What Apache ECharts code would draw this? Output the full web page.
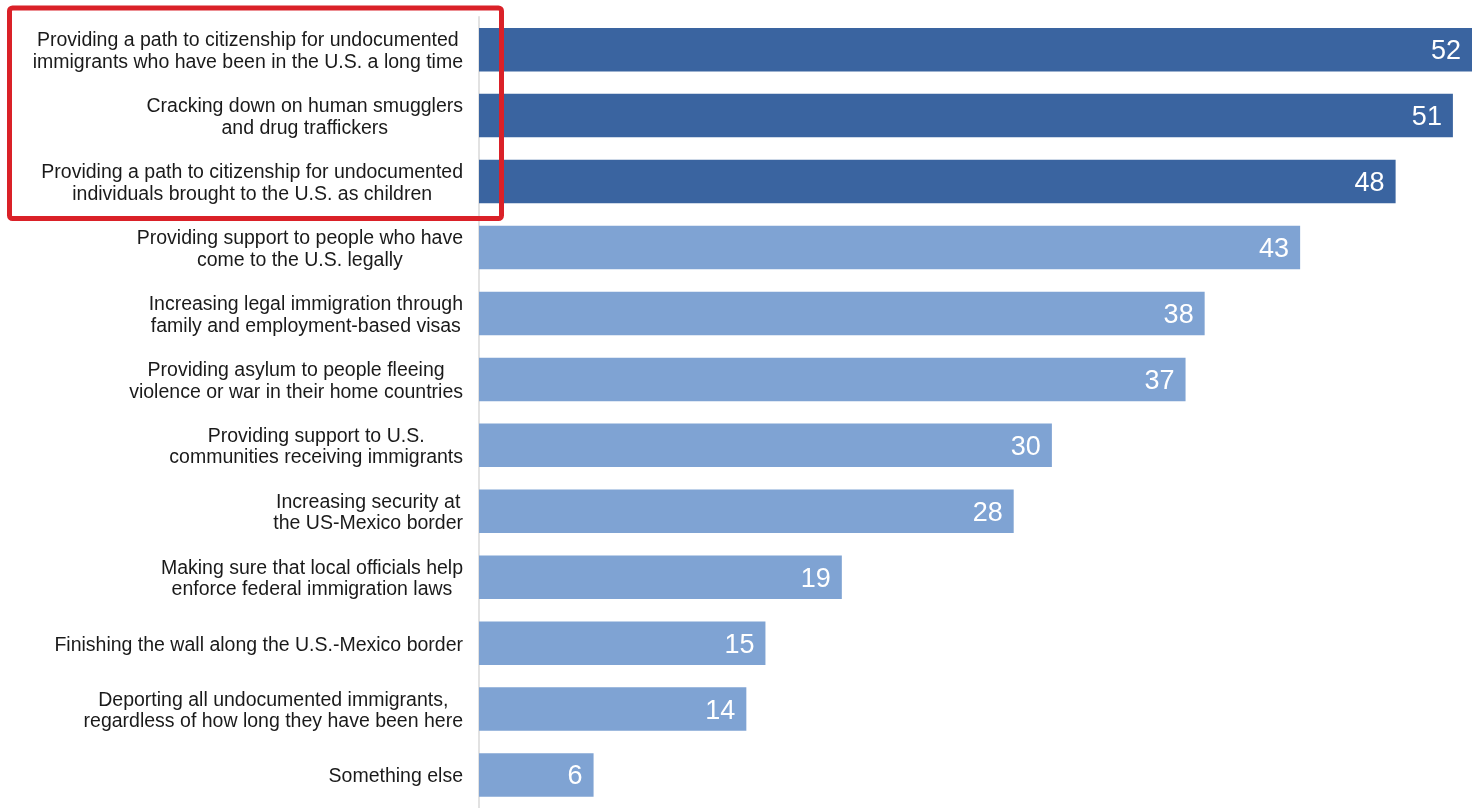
<!DOCTYPE html>
<html>
<head>
<meta charset="utf-8">
<style>html,body{margin:0;padding:0;background:#fff;}#c{width:1475px;height:808px;}</style>
<script src="https://cdn.jsdelivr.net/npm/echarts@6/dist/echarts.min.js"></script>
</head>
<body>
<div id="c"></div>
<script>
const categories = [
  "Providing a path to citizenship for undocumented\nimmigrants who have been in the U.S. a long time",
  "Cracking down on human smugglers\nand drug traffickers",
  "Providing a path to citizenship for undocumented\nindividuals brought to the U.S. as children",
  "Providing support to people who have\ncome to the U.S. legally",
  "Increasing legal immigration through\nfamily and employment-based visas",
  "Providing asylum to people fleeing\nviolence or war in their home countries",
  "Providing support to U.S.\ncommunities receiving immigrants",
  "Increasing security at\nthe US-Mexico border",
  "Making sure that local officials help\nenforce federal immigration laws",
  "Finishing the wall along the U.S.-Mexico border",
  "Deporting all undocumented immigrants,\nregardless of how long they have been here",
  "Something else"
];
const values = [52, 51, 48, 43, 38, 37, 30, 28, 19, 15, 14, 6];
const highlighted = [true, true, true, false, false, false, false, false, false, false, false, false];

const DARK = '#3A64A0', LIGHT = '#7FA3D3';
const chart = echarts.init(document.getElementById('c'));
chart.setOption({
  animation: false,
  grid: { left: 479, right: 3, top: 16.7, bottom: -8.7, containLabel: false },
  xAxis: { type: 'value', min: 0, max: 52, show: false },
  yAxis: {
    type: 'category', inverse: true, data: categories,
    axisLine: { show: true, lineStyle: { color: '#d9d9d9', width: 1.5 } },
    axisTick: { show: false },
    axisLabel: {
      margin: 16, align: 'right', padding: [4, 0, 0, 0],
      formatter: v => v.split('\n').map(l => '{c|' + l + '}').join('\n'),
      rich: { c: { align: 'center', fontFamily: 'Liberation Sans, Arial, sans-serif', fontSize: 19.5, lineHeight: 21.5, color: '#1a1a1a' } }
    }
  },
  series: [{
    type: 'bar', barWidth: 43.5,
    data: values.map((v, i) => ({ value: v, itemStyle: { color: highlighted[i] ? DARK : LIGHT } })),
    label: { show: true, position: 'insideRight', distance: 11, offset: [0, 2], color: '#fff', fontSize: 27, fontFamily: 'Liberation Sans, Arial, sans-serif' }
  }],
  graphic: [{
    type: 'rect', shape: { x: 9.5, y: 8, width: 492, height: 210.5, r: 3 },
    style: { fill: 'none', stroke: '#DA2128', lineWidth: 5 }, z: 100
  }]
});
</script>
</body>
</html>
